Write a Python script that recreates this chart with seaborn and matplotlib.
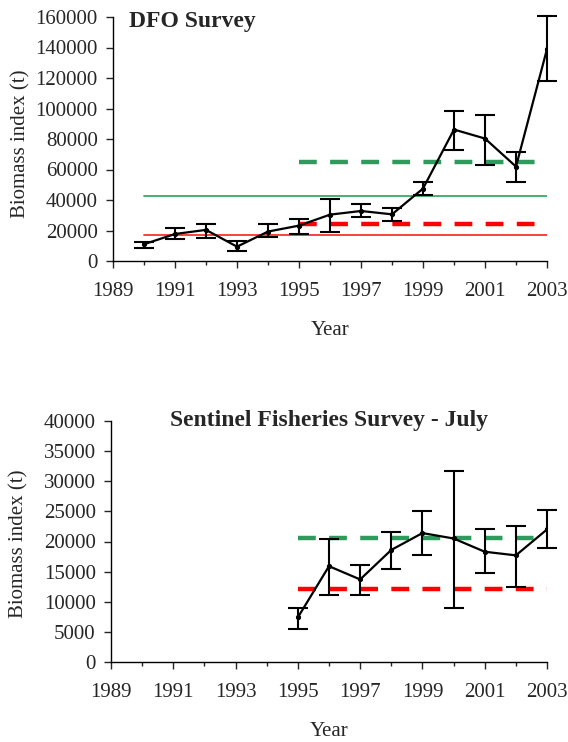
import matplotlib
matplotlib.use("Agg")
import matplotlib.pyplot as plt
import seaborn as sns
import pandas as pd
import numpy as np
from matplotlib.ticker import MultipleLocator

# ---- data ----
dfo_years = [1990, 1991, 1992, 1993, 1994, 1995, 1996, 1997, 1998, 1999, 2000, 2001, 2002, 2003]
dfo_index = [11000, 17700, 20400, 9400, 19300, 23200, 30400, 32800, 30600, 47500, 86200, 80300, 61900, 139000]
dfo_low   = [8300, 14200, 15300, 6800, 15500, 18000, 19300, 28700, 26500, 43100, 72500, 62800, 52100, 117800]
dfo_high  = [12300, 21700, 24300, 13400, 24300, 27600, 40700, 37400, 35000, 51900, 98100, 95900, 71600, 160400]

sen_years = [1995, 1996, 1997, 1998, 1999, 2000, 2001, 2002, 2003]
sen_index = [7400, 15900, 13700, 18600, 21400, 20500, 18300, 17700, 22000]
sen_low   = [5400, 11200, 11200, 15400, 17700, 9000, 14800, 12400, 18900]
sen_high  = [9000, 20400, 16100, 21600, 25000, 31700, 22000, 22500, 25300]

# reference levels
dfo_green_solid = 42500   # 1990-2003
dfo_red_solid = 17000     # 1990-2003
dfo_green_dash = 65000    # 1995-2003
dfo_red_dash = 24500      # 1995-2003
sen_green_dash = 20500    # 1995-2003
sen_red_dash = 12100      # 1995-2003

x_ticks = [1989, 1991, 1993, 1995, 1997, 1999, 2001, 2003]

sns.set_style("ticks")
plt.rcParams['font.family'] = ['Liberation Serif', 'DejaVu Serif']
plt.rcParams['font.size'] = 15

fig = plt.figure(figsize=(5.68, 7.42), dpi=100)
ax1 = fig.add_axes([113/568, 1-261/742, (547-113)/568, (261-17)/742])
ax2 = fig.add_axes([111/568, 1-662/742, (547-111)/568, (662-421)/742])

GREEN = "#2e9a5c"
GREEN_SOLID = "#3aa866"
RED = "#ff0000"
RED_SOLID = "#ff3030"

def style(ax, ymax, ystep):
    ax.set_xlim(1989, 2003)
    ax.set_ylim(0, ymax)
    ax.set_xticks(x_ticks)
    ax.xaxis.set_minor_locator(MultipleLocator(1))
    ax.yaxis.set_major_locator(MultipleLocator(ystep))
    ax.tick_params(axis='y', which='major', direction='out', length=5, width=1, labelsize=15, pad=6)
    ax.tick_params(axis='x', which='major', direction='out', length=5, width=1, labelsize=15, pad=10)
    ax.tick_params(axis='x', which='minor', direction='out', length=3, width=1)
    for s in ['top', 'right']:
        ax.spines[s].set_visible(False)
    for s in ['left', 'bottom']:
        ax.spines[s].set_linewidth(1)
        ax.spines[s].set_color('black')
    ax.set_xlabel("Year", fontsize=15)
    ax.set_ylabel("Biomass index (t)", fontsize=15)

def series(ax, years, vals, lo, hi):
    df = pd.DataFrame({"Year": years, "Index": vals})
    yerr = [np.array(vals) - np.array(lo), np.array(hi) - np.array(vals)]
    eb = ax.errorbar(years, vals, yerr=yerr, fmt='none', ecolor='black', elinewidth=1.5,
                     capsize=7.5, capthick=1.5, zorder=5)
    for artist in eb.lines[1] + eb.lines[2]:
        artist.set_clip_on(False)
    sns.lineplot(data=df, x="Year", y="Index", ax=ax, color='black', linewidth=1.6,
                 marker='o', markersize=3, markeredgecolor='black', zorder=6)

# ---- top panel ----
ax1.plot([1990, 2003], [dfo_green_solid]*2, color=GREEN_SOLID, linewidth=1.3, zorder=2)
ax1.plot([1990, 2003], [dfo_red_solid]*2, color=RED_SOLID, linewidth=1.3, zorder=2)
ax1.plot([1995, 2003], [dfo_green_dash]*2, color=GREEN, linewidth=3.2, dashes=(4, 3), zorder=3)
ax1.plot([1995, 2003], [dfo_red_dash]*2, color=RED, linewidth=3.2, dashes=(4, 3), zorder=3)
series(ax1, dfo_years, dfo_index, dfo_low, dfo_high)
style(ax1, 160000, 20000)
ax1.text(1991.55, 157000, "DFO Survey", ha='center', va='center', fontsize=17,
         fontweight='bold', clip_on=False)

# ---- bottom panel ----
ax2.plot([1995, 2003], [sen_green_dash]*2, color=GREEN, linewidth=3.2, dashes=(4, 3), zorder=3)
ax2.plot([1995, 2003], [sen_red_dash]*2, color=RED, linewidth=3.2, dashes=(4, 3), zorder=3)
series(ax2, sen_years, sen_index, sen_low, sen_high)
style(ax2, 40000, 5000)
ax2.text(1996.0, 40100, "Sentinel Fisheries Survey - July", ha='center', va='center',
         fontsize=17, fontweight='bold', clip_on=False)

ax1.xaxis.set_label_coords(0.5, -0.245)
ax2.xaxis.set_label_coords(0.5, -0.25)
ax1.yaxis.set_label_coords(-0.19, 0.48)
ax2.yaxis.set_label_coords(-0.19, 0.49)

fig.savefig("out.png", dpi=100)
